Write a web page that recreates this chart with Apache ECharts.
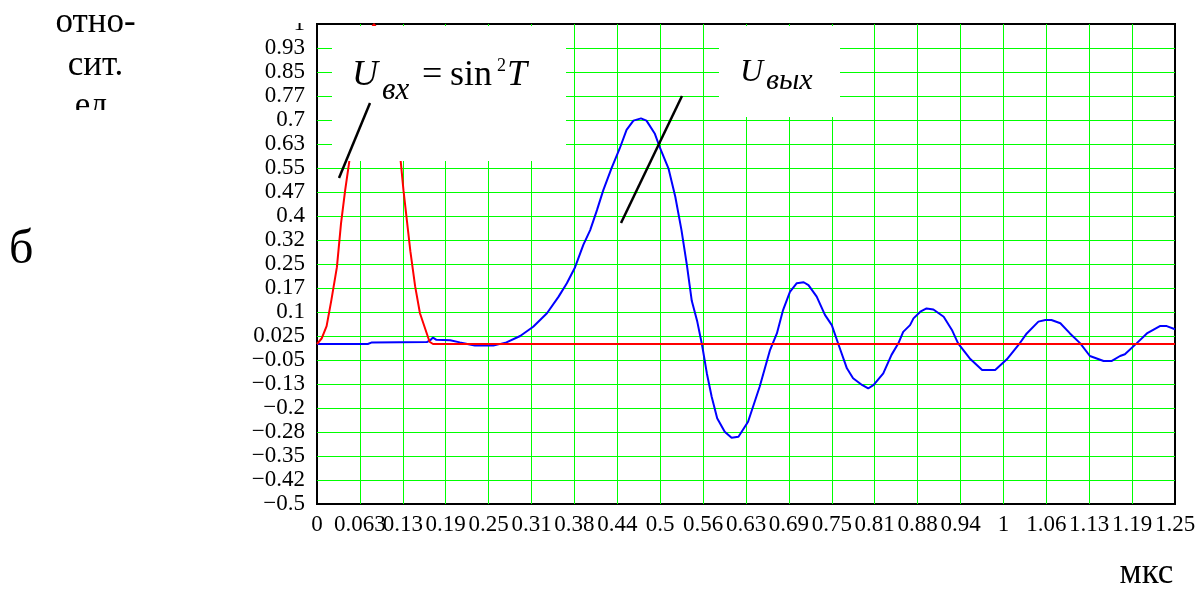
<!DOCTYPE html>
<html><head><meta charset="utf-8">
<script src="https://cdn.jsdelivr.net/npm/echarts@6/dist/echarts.min.js"></script>
<style>html,body{margin:0;padding:0;background:#fff}#c{width:1203px;height:591px}</style>
</head><body><div id="c"></div>
<script>
// Tick labels (as printed in the reference)
const xTickLabels = ['0','0.063','0.13','0.19','0.25','0.31','0.38','0.44','0.5','0.56','0.63','0.69','0.75','0.81','0.88','0.94','1','1.06','1.13','1.19','1.25'];
const yTickLabels = ['\u22120.5','\u22120.42','\u22120.35','\u22120.28','\u22120.2','\u22120.13','\u22120.05','0.025','0.1','0.17','0.25','0.32','0.4','0.47','0.55','0.63','0.7','0.77','0.85','0.93','1'];

// Input pulse U_вх (red)
const redT = [0, 0.007, 0.014, 0.021, 0.029, 0.035, 0.041, 0.047, 0.056, 0.066, 0.075, 0.083, 0.092, 0.101, 0.111, 0.122, 0.126, 0.136, 0.143, 0.15, 0.164, 0.169, 1.25];
const redV = [0, 0.018, 0.056, 0.138, 0.24, 0.377, 0.48, 0.57, 0.74, 0.89, 0.97, 1.0, 0.97, 0.89, 0.74, 0.57, 0.48, 0.29, 0.18, 0.096, 0.007, 0, 0];

// Output U_вых (blue)
const blueT = [0, 0.074, 0.08, 0.16, 0.165, 0.169, 0.174, 0.194, 0.208, 0.23,
  0.257, 0.276, 0.296, 0.315, 0.335, 0.352, 0.364, 0.376, 0.388, 0.398,
  0.408, 0.417, 0.429, 0.441, 0.451, 0.461, 0.472, 0.48, 0.492, 0.5,
  0.512, 0.522, 0.531, 0.539, 0.546, 0.554, 0.561, 0.568, 0.575, 0.583,
  0.594, 0.604, 0.614, 0.628, 0.645, 0.66, 0.67, 0.679, 0.689, 0.699,
  0.709, 0.716, 0.728, 0.74, 0.75, 0.76, 0.772, 0.781, 0.794, 0.803,
  0.811, 0.825, 0.837, 0.847, 0.854, 0.864, 0.869, 0.879, 0.888, 0.898,
  0.913, 0.925, 0.934, 0.951, 0.969, 0.988, 1.005, 1.022, 1.034, 1.051,
  1.061, 1.07, 1.083, 1.097, 1.112, 1.126, 1.146, 1.158, 1.17, 1.177,
  1.194, 1.209, 1.228, 1.238, 1.25];
const blueV = [0, 0, 0.005, 0.006, 0.012, 0.02, 0.013, 0.012, 0.005, -0.005,
  -0.005, 0.005, 0.025, 0.054, 0.096, 0.148, 0.19, 0.24, 0.31, 0.356,
  0.419, 0.48, 0.549, 0.611, 0.669, 0.698, 0.705, 0.698, 0.658, 0.611,
  0.549, 0.46, 0.356, 0.245, 0.135, 0.07, -0.003, -0.092, -0.165, -0.232,
  -0.274, -0.293, -0.29, -0.243, -0.133, -0.019, 0.033, 0.106, 0.163, 0.19,
  0.193, 0.184, 0.148, 0.091, 0.059, -0.003, -0.076, -0.107, -0.128, -0.139,
  -0.128, -0.092, -0.034, 0.002, 0.038, 0.059, 0.08, 0.101, 0.111, 0.108,
  0.085, 0.044, 0.002, -0.045, -0.081, -0.081, -0.048, -0.003, 0.033, 0.07,
  0.075, 0.075, 0.065, 0.033, 0.002, -0.0375, -0.053, -0.053, -0.0375, -0.032,
  0.002, 0.033, 0.056, 0.056, 0.046];

const SERIF = '"Liberation Serif", "Times New Roman", serif';
const GREEN = '#00ff00';

const chart = echarts.init(document.getElementById('c'), null, {renderer: 'canvas'});

function txt(text, x, y, font, align) {
  return {type: 'text', x: x, y: y, z: 110,
    style: {text: text, font: font, fill: '#000', align: align || 'left', verticalAlign: 'middle'}};
}
function rect(x, y, w, h, z) {
  return {type: 'rect', z: z || 100, shape: {x: x, y: y, width: w, height: h}, style: {fill: '#fff'}};
}
function seg(x1, y1, x2, y2) {
  return {type: 'line', z: 120, shape: {x1: x1, y1: y1, x2: x2, y2: y2}, style: {stroke: '#000', lineWidth: 2.5}};
}

chart.setOption({
  animation: false,
  backgroundColor: '#fff',
  grid: {left: 317, right: 28, top: 24, bottom: 87, containLabel: false, outerBoundsMode: 'none',
    show: true, borderColor: '#000', borderWidth: 2, backgroundColor: 'transparent'},
  xAxis: {
    type: 'value', min: 0, max: 1.25, interval: 0.0625,
    axisLine: {show: false}, axisTick: {show: false},
    axisLabel: {show: true, margin: 9, color: '#000', fontFamily: SERIF, fontSize: 23,
      hideOverlap: false, showMinLabel: true, showMaxLabel: true,
      formatter: v => xTickLabels[Math.round(v / 0.0625)]},
    splitLine: {show: true, showMinLine: false, showMaxLine: false, lineStyle: {color: GREEN, width: 1}}
  },
  yAxis: [
    {type: 'value', min: -0.5, max: 1, show: false, splitLine: {show: false}},
    {type: 'value', min: 0, max: 20, interval: 1, position: 'left',
      axisLine: {show: false}, axisTick: {show: false},
      axisLabel: {show: true, margin: 12, color: '#000', fontFamily: SERIF, fontSize: 23,
        hideOverlap: false, showMinLabel: true, showMaxLabel: true,
        formatter: v => yTickLabels[Math.round(v)]},
      splitLine: {show: true, showMinLine: false, showMaxLine: false, lineStyle: {color: GREEN, width: 1}}}
  ],
  series: [
    {type: 'line', name: 'Uвых', yAxisIndex: 0, showSymbol: false, symbol: 'none', z: 3,
      lineStyle: {color: '#0000ff', width: 2}, data: blueT.map((t, i) => [t, blueV[i]])},
    {type: 'line', name: 'Uвх', yAxisIndex: 0, showSymbol: false, symbol: 'none', z: 4,
      lineStyle: {color: '#ff0000', width: 2}, data: redT.map((t, i) => [t, redV[i]])}
  ],
  graphic: [
    rect(332, 26, 234, 135),
    rect(719, 26, 121, 91),
    rect(240, 0, 75, 23, 130),
    txt('U', 352, 75.2, 'italic 36px ' + SERIF),
    txt('вх', 382, 91.2, 'italic 31px ' + SERIF),
    txt('=', 422, 75.2, '36px ' + SERIF),
    txt('sin', 450, 75.2, '36px ' + SERIF),
    txt('2', 497, 66, '18px ' + SERIF),
    txt('T', 507, 75.2, 'italic 36px ' + SERIF),
    txt('U', 740, 72.5, 'italic 32px ' + SERIF),
    txt('вых', 766, 81.6, 'italic 30px ' + SERIF),
    txt('отно-', 95.5, 23.2, '35px ' + SERIF, 'center'),
    txt('сит.', 95.5, 65.5, '35px ' + SERIF, 'center'),
    txt('ед.', 95.5, 106.7, '35px ' + SERIF, 'center'),
    rect(30, 110, 140, 40, 130),
    txt('б', 9, 250, '48px ' + SERIF),
    txt('мкс', 1146.5, 573.5, '35px ' + SERIF, 'center'),
    seg(370, 103, 339, 178),
    seg(682, 96, 621, 223)
  ]
});
</script>
</body></html>
